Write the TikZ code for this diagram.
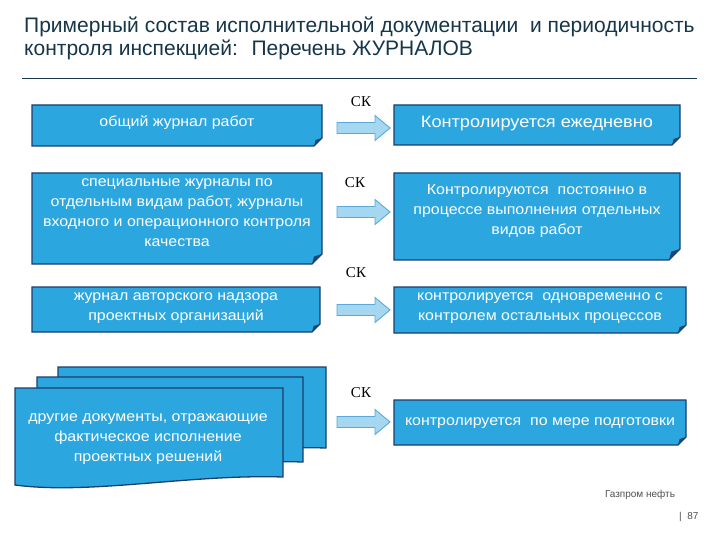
\documentclass[tikz,border=0pt]{standalone}
\usepackage{fontspec}
\setmainfont{Liberation Sans}
\newfontfamily\boxfont[FakeStretch=1.1]{Liberation Sans}
\newfontfamily\serifck{Liberation Serif}
\definecolor{boxblue}{HTML}{2CA6DF}
\definecolor{boxedge}{HTML}{1B3F6E}
\definecolor{folddark}{HTML}{1D4677}
\definecolor{titlecol}{HTML}{17364A}
\definecolor{arrowfill}{HTML}{A6D7F0}
\definecolor{arrowedge}{HTML}{5AA9D6}
\definecolor{footgray}{HTML}{505050}

\tikzset{
  boxtext/.style={text=white, align=center, inner sep=0pt,
    font=\boxfont\fontsize{14.5bp}{20bp}\selectfont},
  boxshape/.style={fill=boxblue, draw=boxedge, line width=1.3bp, line join=miter},
  ckstyle/.style={font=\serifck\fontsize{15bp}{15bp}\selectfont, text=black, inner sep=0pt},
  arrowshape/.style={fill=arrowfill, draw=arrowedge, line width=0.9bp},
  titletext/.style={text=titlecol, anchor=base west, inner sep=0pt,
    font=\fontsize{21bp}{23bp}\selectfont},
  foottext/.style={text=footgray, font=\fontsize{10bp}{10bp}\selectfont, inner sep=0pt}
}

% name, x1, y1, x2, y2, corner, text y, text
\newcommand{\FoldBox}[8]{%
  \path[boxshape] (#2,#3) -- (#4,#3) -- (#4,#5-#6) -- (#4-#6,#5) -- (#2,#5) -- cycle;
  \fill[folddark] (#4,#5-#6) -- (#4-#6,#5) -- (#4-0.8*#6,#5-0.75*#6) -- cycle;
  \node[boxtext] (#1) at ({(#2+#4)/2},#7) {#8};
}
% x1, top, x2, right-bottom
\newcommand{\DocLayer}[4]{%
  \path[boxshape] (#1,#2) -- (#3,#2) -- (#3,#4)
    .. controls (#3-93,#4-3) and (#1+75,#4+18) .. (#1,#4+8) -- cycle;
}
% centre y
\newcommand{\BlockArrow}[1]{%
  \path[arrowshape] (337,#1-5.5) -- (375,#1-5.5) -- (375,#1-12.5) -- (390,#1)
    -- (375,#1+12.5) -- (375,#1+5.5) -- (337,#1+5.5) -- cycle;
}

\begin{document}
\begin{tikzpicture}[x=1bp,y=-1bp]
\useasboundingbox (0,0) rectangle (720,540);
\fill[white] (0,0) rectangle (720,540);

% title
\node[titletext] (t1) at (24,33) {Примерный состав исполнительной документации \ и периодичность};
\node[titletext] (t2) at (24,56) {контроля инспекцией: \ Перечень ЖУРНАЛОВ};
\draw[titlecol, line width=1bp] (22,79) -- (697,79);

% left column
\FoldBox{l1}{32}{105}{322}{146}{8}{123}{общий журнал работ}
\FoldBox{l2}{32}{173}{322}{264}{10}{212.5}{специальные журналы по\\отдельным видам работ, журналы\\входного и операционного контроля\\качества}
\FoldBox{l3}{32}{287}{320}{332}{8}{308}{журнал авторского надзора\\проектных организаций}

\DocLayer{58}{367}{326}{448}
\DocLayer{37}{377}{303}{462}
\DocLayer{15}{388}{283}{477}
\node[boxtext] (l4) at (148,439) {другие документы, отражающие\\фактическое исполнение\\проектных решений};

% right column
\FoldBox{r1}{394}{105}{680}{145}{8}{124}{\fontsize{16.5bp}{20bp}\selectfont Контролируется ежедневно}
\FoldBox{r2}{394}{173}{680}{260}{11}{211}{Контролируются \ постоянно в\\процессе выполнения отдельных\\видов работ}
\FoldBox{r3}{394}{287}{686}{333}{8}{308}{контролируется \ одновременно с\\контролем остальных процессов}
\FoldBox{r4}{394}{400}{686}{445}{8}{423}{контролируется \ по мере подготовки}

% arrows
\BlockArrow{128}
\BlockArrow{212}
\BlockArrow{310}
\BlockArrow{422}

% CK labels
\node[ckstyle] (ck1) at (361,102) {СК};
\node[ckstyle] (ck2) at (355,183) {СК};
\node[ckstyle] (ck3) at (356,273) {СК};
\node[ckstyle] (ck4) at (361,393) {СК};

% footer
\node[foottext] (foot) at (640,495) {Газпром нефть};
\node[foottext, anchor=west] (page) at (679,517) {|\ \ 87};
\end{tikzpicture}
\end{document}
